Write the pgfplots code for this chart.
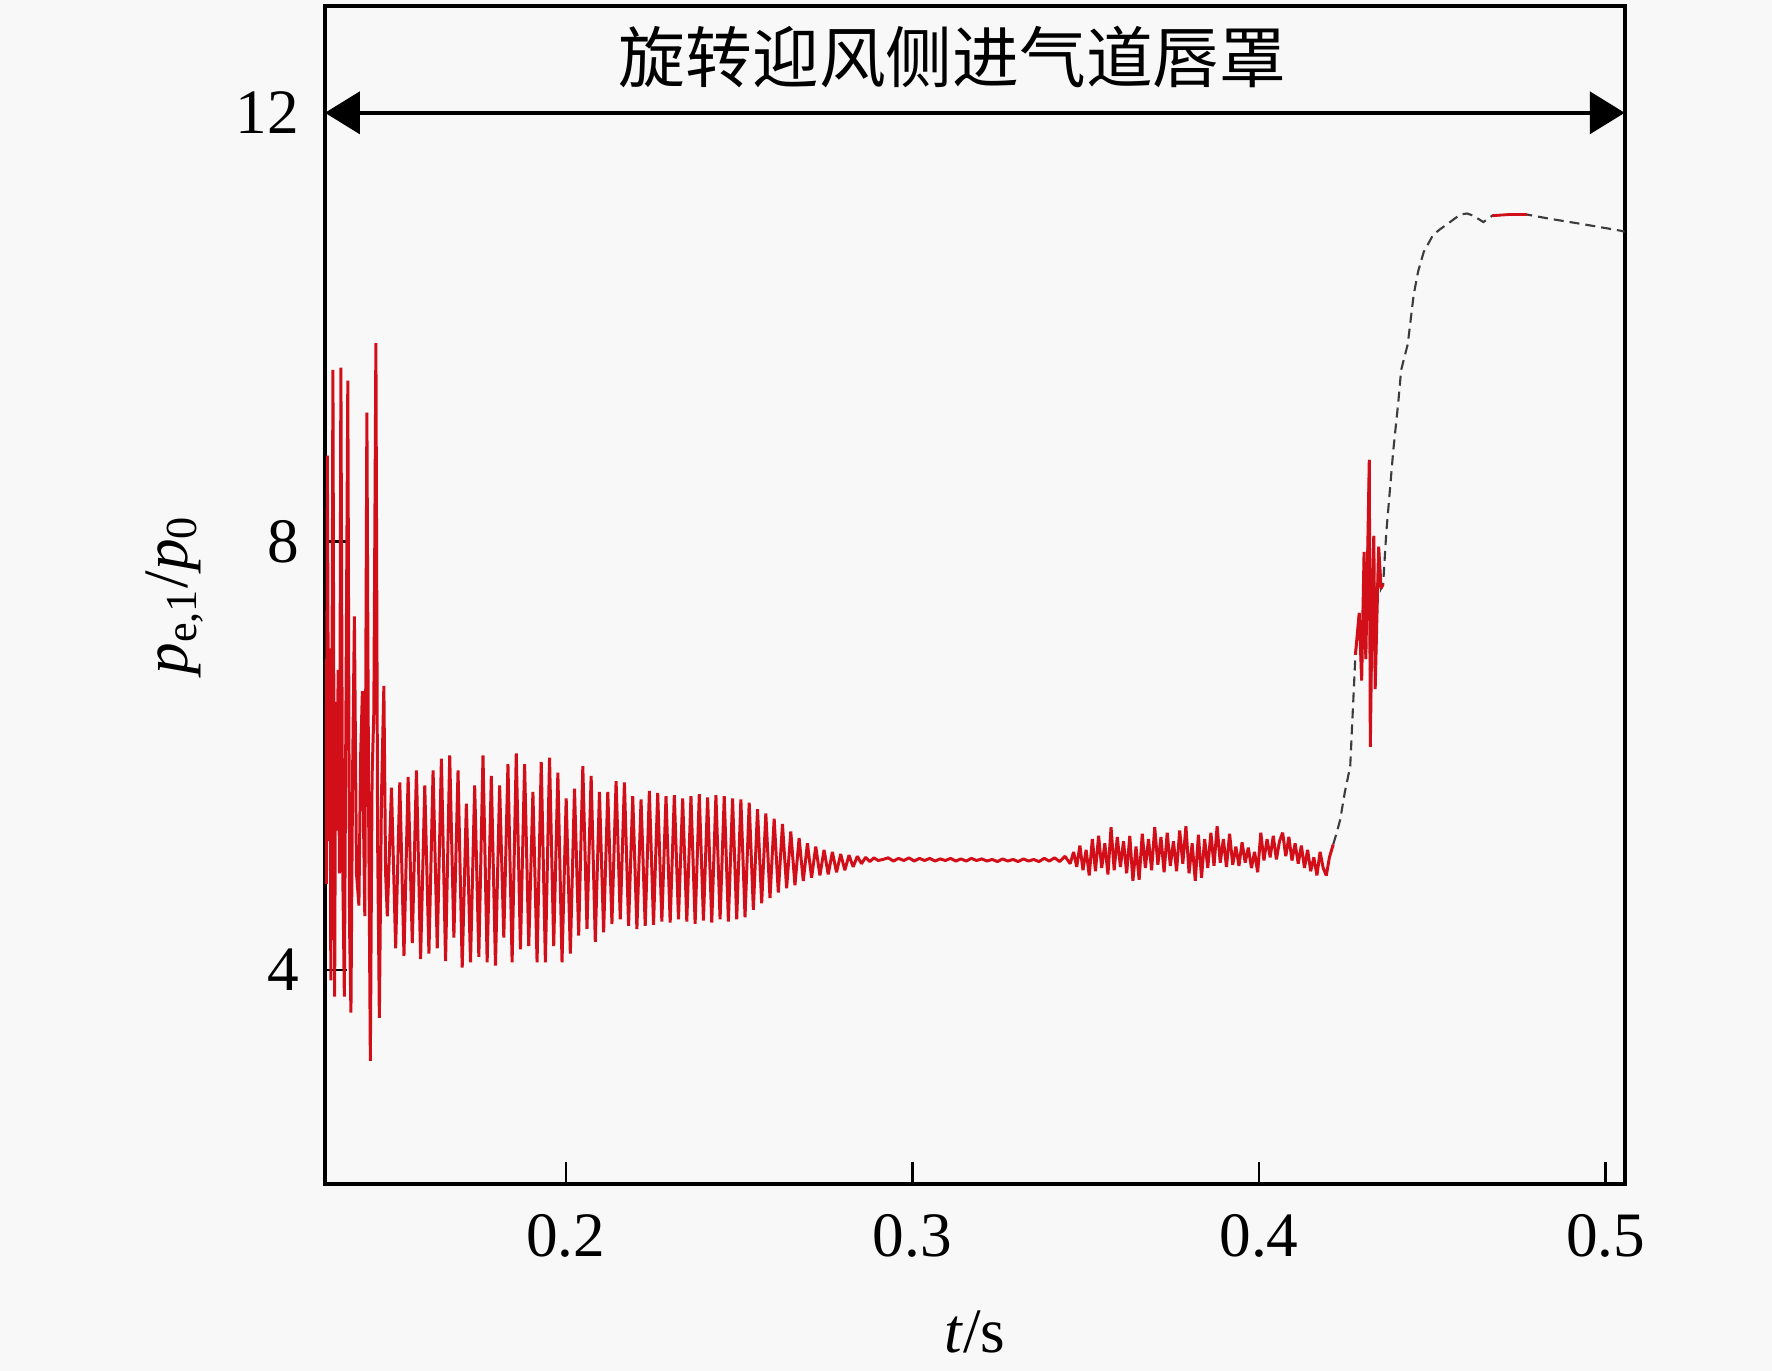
\documentclass[border=0pt]{standalone}
\usepackage{fontspec}
\setmainfont{Liberation Serif}
\newfontfamily\cjk{Noto Sans CJK SC}
\usepackage{pgfplots}
\usepackage{pgfplotstable}
\pgfplotsset{compat=1.18}
\usetikzlibrary{arrows.meta}
\definecolor{bg}{HTML}{F8F8F8}
\definecolor{lred}{RGB}{210,15,25}
\definecolor{dgray}{RGB}{60,60,60}
\pgfplotstableread{
t v
0.1306 6.9
0.1309 4.8
0.1312 8.8
0.1316 5.2
0.1319 7.0
0.1322 3.9
0.1325 6.2
0.1328 9.6
0.1333 3.75
0.1336 6.5
0.1340 5.3
0.1343 6.8
0.1347 4.9
0.1351 9.62
0.1356 5.0
0.1361 3.75
0.1365 6.1
0.1371 9.5
0.1376 4.4
0.1380 3.6
0.1385 5.9
0.1390 7.3
0.1396 4.9
0.1403 4.6
0.1408 6.0
0.1413 6.6
0.1417 5.2
0.1420 4.5
0.1426 9.2
0.1431 5.5
0.1436 3.15
0.1441 5.8
0.1446 6.4
0.1452 9.85
0.1457 5.2
0.1462 3.55
0.1468 5.6
0.1475 6.65
0.1480 4.9
0.1485 4.5
0.1497 5.70
0.1509 4.20
0.1521 5.75
0.1533 4.13
0.1545 5.80
0.1557 4.25
0.1569 5.86
0.1581 4.10
0.1593 5.72
0.1605 4.15
0.1617 5.86
0.1629 4.20
0.1641 5.97
0.1653 4.08
0.1665 6.00
0.1677 4.30
0.1689 5.86
0.1701 4.02
0.1713 5.55
0.1725 4.07
0.1737 5.72
0.1749 4.12
0.1761 6.00
0.1773 4.07
0.1785 5.81
0.1797 4.04
0.1809 5.72
0.1821 4.30
0.1833 5.92
0.1845 4.07
0.1857 6.02
0.1869 4.19
0.1881 5.92
0.1893 4.22
0.1905 5.66
0.1917 4.07
0.1929 5.94
0.1941 4.07
0.1953 5.98
0.1965 4.22
0.1977 5.84
0.1989 4.07
0.2001 5.60
0.2013 4.15
0.2025 5.69
0.2037 4.32
0.2049 5.90
0.2061 4.38
0.2073 5.81
0.2085 4.26
0.2097 5.66
0.2109 4.35
0.2121 5.66
0.2133 4.43
0.2145 5.76
0.2157 4.47
0.2169 5.75
0.2181 4.41
0.2193 5.62
0.2205 4.38
0.2217 5.59
0.2229 4.41
0.2241 5.67
0.2253 4.42
0.2265 5.65
0.2277 4.45
0.2289 5.62
0.2301 4.44
0.2313 5.63
0.2325 4.47
0.2337 5.60
0.2349 4.45
0.2361 5.62
0.2373 4.43
0.2385 5.64
0.2397 4.46
0.2409 5.61
0.2421 4.44
0.2433 5.63
0.2445 4.47
0.2457 5.62
0.2469 4.45
0.2481 5.60
0.2493 4.47
0.2505 5.59
0.2517 4.49
0.2529 5.56
0.2541 4.56
0.2553 5.50
0.2565 4.62
0.2577 5.46
0.2589 4.67
0.2601 5.41
0.2613 4.72
0.2625 5.36
0.2637 4.76
0.2649 5.29
0.2661 4.79
0.2673 5.23
0.2685 4.83
0.2697 5.18
0.2709 4.86
0.2721 5.15
0.2733 4.88
0.2745 5.12
0.2757 4.89
0.2769 5.10
0.2781 4.91
0.2793 5.08
0.2805 4.93
0.2817 5.07
0.2829 4.96
0.2841 5.06
0.2853 4.99
0.2865 5.05
0.2877 5.01
0.2889 5.045
0.2901 5.02
0.2915 5.03
0.2930 5.045
0.2945 5.015
0.2960 5.04
0.2975 5.02
0.2990 5.045
0.3005 5.015
0.3020 5.04
0.3035 5.02
0.3050 5.04
0.3065 5.015
0.3080 5.035
0.3095 5.02
0.3110 5.04
0.3125 5.015
0.3140 5.035
0.3155 5.015
0.3170 5.04
0.3185 5.02
0.3200 5.035
0.3215 5.015
0.3230 5.03
0.3245 5.01
0.3260 5.035
0.3275 5.015
0.3290 5.03
0.3305 5.01
0.3320 5.035
0.3335 5.015
0.3350 5.03
0.3365 5.01
0.3380 5.04
0.3395 5.015
0.3410 5.045
0.3425 5.01
0.3440 5.06
0.3455 4.99
0.3465 5.10
0.3474 4.96
0.3483 5.16
0.3492 4.93
0.3501 5.12
0.3510 4.88
0.3519 5.22
0.3528 4.92
0.3537 5.25
0.3546 4.95
0.3555 5.18
0.3564 4.89
0.3573 5.33
0.3582 4.93
0.3591 5.24
0.3600 4.96
0.3609 5.20
0.3618 4.90
0.3627 5.25
0.3636 4.83
0.3645 5.15
0.3654 4.84
0.3663 5.27
0.3672 4.95
0.3681 5.22
0.3690 4.93
0.3699 5.33
0.3708 4.98
0.3717 5.24
0.3726 4.91
0.3735 5.28
0.3744 4.97
0.3753 5.20
0.3762 4.92
0.3771 5.30
0.3780 4.99
0.3789 5.34
0.3798 4.90
0.3807 5.18
0.3816 4.83
0.3825 5.26
0.3834 4.86
0.3843 5.22
0.3852 4.95
0.3861 5.28
0.3870 4.97
0.3879 5.34
0.3888 5.00
0.3897 5.22
0.3906 4.96
0.3915 5.27
0.3924 4.98
0.3933 5.15
0.3942 4.97
0.3951 5.19
0.3960 5.00
0.3969 5.14
0.3978 4.95
0.3987 5.10
0.3996 4.91
0.4005 5.28
0.4014 5.02
0.4023 5.22
0.4032 5.05
0.4041 5.25
0.4050 5.03
0.4059 5.20
0.4068 5.28
0.4077 5.06
0.4086 5.24
0.4095 5.02
0.4104 5.18
0.4113 4.99
0.4122 5.16
0.4131 4.95
0.4140 5.12
0.4149 4.92
0.4158 5.05
0.4167 4.88
0.4176 5.10
0.4185 4.95
0.4194 4.88
0.4203 5.05
0.4214 5.17
0.4224 5.28
0.4234 5.40
0.4247 5.65
0.4263 5.90
0.4278 6.94
0.4289 7.33
0.4296 6.70
0.4303 7.90
0.4308 6.90
0.4314 8.00
0.4318 8.76
0.4321 6.08
0.4326 7.40
0.4331 8.05
0.4335 6.62
0.4340 7.30
0.4345 7.95
0.4352 7.56
0.4358 7.60
0.4367 8.08
0.4387 8.84
0.4402 9.31
0.4410 9.60
0.4429 9.84
0.4446 10.30
0.4459 10.52
0.4475 10.70
0.4502 10.86
0.4521 10.91
0.4551 10.98
0.4580 11.05
0.4600 11.06
0.4618 11.04
0.4647 10.98
0.4673 11.04
0.4720 11.05
0.4773 11.05
0.4840 11.01
0.4935 10.96
0.5042 10.90
0.5055 10.89
}\pdata
\begin{document}
\begin{tikzpicture}
\fill[bg] (-32.5mm,-18.68mm) rectangle (144.73mm,118.42mm);
\begin{axis}[
  at={(0,0)}, anchor=south west, scale only axis,
  width=130mm, height=117.85mm,
  xmin=0.1305, xmax=0.5055, ymin=2, ymax=13,
  xtick={0.2,0.3,0.4,0.5}, xticklabels={0.2,0.3,0.4,0.5},
  ytick={4,8,12}, yticklabels={4,8,12},
  /pgf/number format/assume math mode=true,
  tick align=inside, tick pos=left,
  major tick length=2.2mm,
  axis line style={line width=1.1pt},
  every tick/.style={black, line width=0.7pt},
  tick label style={font=\fontsize{18}{20}\selectfont, inner sep=0pt},
  xticklabel style={anchor=base, yshift=-7.25mm},
  yticklabel style={anchor=east, xshift=-2.5mm},
  label style={font=\fontsize{18}{20}\selectfont},
  xlabel={\textit{t}/s},
  ylabel={\textit{p}\textsubscript{e,1}/\textit{p}\textsubscript{0}},
  xlabel style={at={(axis description cs:0.5,-0.1426)}, anchor=base, inner sep=0pt},
  ylabel style={at={(axis description cs:-0.1154,0.5)}, anchor=center, inner sep=0pt},
]
\addplot[dgray, line width=0.6pt, dash pattern=on 1mm off 0.6mm, restrict x to domain=0.4213:0.51] table[x=t,y=v] {\pdata};
\addplot[lred, line width=0.85pt, line join=bevel, restrict x to domain=0.13:0.4215] table[x=t,y=v] {\pdata};
\addplot[lred, line width=0.85pt, line join=bevel, restrict x to domain=0.4277:0.4359] table[x=t,y=v] {\pdata};
\addplot[lred, line width=0.8pt, restrict x to domain=0.4672:0.4774] table[x=t,y=v] {\pdata};
\draw[{Triangle[length=3.5mm,width=4.2mm]}-{Triangle[length=3.5mm,width=4.2mm]}, line width=1.2pt] (axis cs:0.1305,12) -- (axis cs:0.5055,12);
\node[font=\cjk\fontsize{19}{22}\selectfont] at (axis cs:0.3116,12.52) {旋转迎风侧进气道唇罩};
\end{axis}
\end{tikzpicture}
\end{document}
